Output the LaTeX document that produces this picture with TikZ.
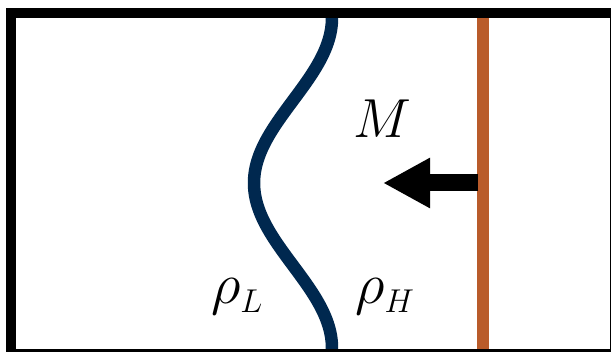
\documentclass[tikz,border=0pt]{standalone}
\usepackage{fix-cm}
\usetikzlibrary{arrows.meta}
\DeclareMathSizes{55}{55}{33}{22}
\DeclareMathSizes{58}{58}{33}{22}
\definecolor{navy}{HTML}{00284F}
\definecolor{rust}{HTML}{B95B2A}
\tikzset{
  lbl/.style={inner sep=0pt, anchor=base, font=\fontsize{55}{60}\selectfont},
  rholbl/.style={inner sep=0pt, anchor=base, font=\fontsize{58}{60}\selectfont},
  frame/.style={line width=10pt, draw=black},
  wall/.style={line width=11.5pt, draw=rust},
  iface/.style={line width=12.5pt, draw=navy},
  push/.style={line width=17pt, -{Triangle[length=47pt,width=47pt]}}
}
\begin{document}
\begin{tikzpicture}[x=1pt,y=-1pt]
\useasboundingbox (0,0) rectangle (611,352);
\begin{scope}
\clip (0,0) rectangle (611,352);
\fill[white] (0,0) rectangle (611,352);
% interface
\draw[iface] plot[domain=14:352, samples=120, smooth] ({293+39*cos(1.090909*(\x-18))}, \x);
% moving wall
\coordinate (wt) at (483,14);
\coordinate (wb) at (483,352);
\draw[wall] (wt) -- (wb);
% arrow
\coordinate (as) at (478,183);
\coordinate (ae) at (383,183);
\draw[push] (as) -- (ae);
% frame
\draw[frame] (10.7,13.3) rectangle (615,354);
\end{scope}
\node[lbl] (M) at (382,138) {$M$};
\node[rholbl] (rL) at (237,303.5) {$\rho_L$};
\node[rholbl] (rH) at (385,303.5) {$\rho_H$};
\end{tikzpicture}
\end{document}
